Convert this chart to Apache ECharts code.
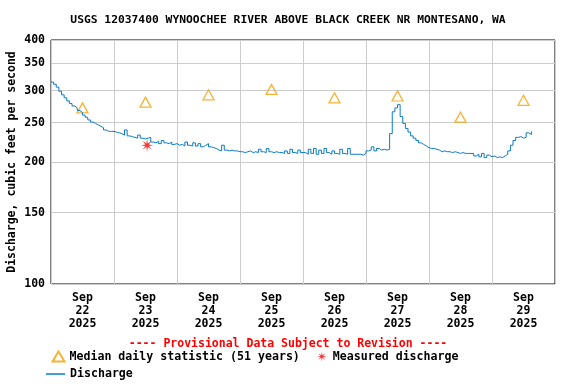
<!DOCTYPE html>
<html>
<head>
<meta charset="utf-8">
<script src="https://cdn.jsdelivr.net/npm/echarts@6/dist/echarts.min.js"></script>
<style>html,body{margin:0;padding:0;background:#fff}#c{width:576px;height:384px}</style>
</head>
<body>
<div id="c"></div>
<script>
// Tick labels / categories
const dayLabels = ['Sep\n22\n2025','Sep\n23\n2025','Sep\n24\n2025','Sep\n25\n2025','Sep\n26\n2025','Sep\n27\n2025','Sep\n28\n2025','Sep\n29\n2025'];
const yTicks = [100, 150, 200, 250, 300, 350, 400];
// Hourly discharge (cfs), hour 0 = Sep 22 00:00
const sep22 = [315,311,306,299,293,288,283,279,275,272,268,265,261,258,254,251,249,247,245,243,240,238,238,238];
const sep23 = [237,236,235,233,240,232,231,230,229,233,229,228,229,230,224,223,225,222,226,223,222,224,221,222];
const sep24 = [220,221,219,224,220,219,223,219,222,218,220,222,218,217,216,214,213,220,214,213,214,213,213,212];
const sep25 = [212,211,212,213,211,212,211,215,212,211,216,212,211,212,211,211,210,213,210,215,211,210,214,211];
const sep26 = [211,209,215,210,216,209,214,210,216,211,209,213,210,209,215,210,209,216,209,209,209,209,208,210];
const sep27 = [213,214,218,213,216,214,215,214,215,235,266,272,277,259,249,242,237,232,229,226,223,221,219,217];
const sep28 = [216,216,215,214,212,213,212,212,211,212,211,210,211,210,210,210,210,207,209,206,210,205,208,206];
const sep29 = [207,205,206,205,207,209,213,220,226,230,231,229,230,236,234,238];
// Median daily statistic (at noon of each day)
const medianHours = [12, 36, 60, 84, 108, 132, 156, 180];
const medianValues = [272, 281, 293, 302, 288, 291, 258, 284];
// Measured discharge
const measuredHours = [36.6];
const measuredValues = [220];

const discharge = [].concat(sep22, sep23, sep24, sep25, sep26, sep27, sep28, sep29);
const dischargeData = discharge.map((v, i) => [i, v]);
const medianData = medianHours.map((h, i) => [h, medianValues[i]]);
const measuredData = measuredHours.map((h, i) => [h, measuredValues[i]]);

const FONT = 'DejaVu Sans Mono';
const starPath = 'path://M10,0 L2.6,1.08 L7.07,7.07 L1.08,2.6 L0,10 L-1.08,2.6 L-7.07,7.07 L-2.6,1.08 L-10,0 L-2.6,-1.08 L-7.07,-7.07 L-1.08,-2.6 L0,-10 L1.08,-2.6 L7.07,-7.07 L2.6,-1.08 Z';

const chart = echarts.init(document.getElementById('c'));
chart.setOption({
  animation: false,
  title: [
    { text: 'USGS 12037400 WYNOOCHEE RIVER ABOVE BLACK CREEK NR MONTESANO, WA', left: 'center', top: 10,
      textStyle: { fontFamily: FONT, fontSize: 11.3, fontWeight: 'bold', color: '#000' } },
    { text: '---- Provisional Data Subject to Revision ----', left: 'center', top: 333,
      textStyle: { fontFamily: FONT, fontSize: 11.5, fontWeight: 'bold', color: '#ff0000' } }
  ],
  grid: { left: 51, right: 21, top: 40, bottom: 100, outerBoundsMode: 'none', containLabel: false,
    show: true, borderColor: '#000', borderWidth: 1, backgroundColor: 'transparent' },
  xAxis: [
    { type: 'value', min: 0, max: 192, interval: 24,
      axisLine: { show: false }, axisTick: { show: false }, axisLabel: { show: false },
      splitLine: { show: true, lineStyle: { color: '#cccccc', width: 1 } } },
    { type: 'category', data: dayLabels, position: 'bottom', boundaryGap: true,
      axisLine: { show: false }, axisTick: { show: false }, splitLine: { show: false },
      axisLabel: { fontFamily: FONT, fontSize: 11.5, fontWeight: 'bold', color: '#000', lineHeight: 13, margin: 8 } }
  ],
  yAxis: {
    type: 'log', logBase: 10, min: 100, max: 400,
    name: 'Discharge, cubic feet per second', nameLocation: 'middle', nameGap: 33, nameRotate: 90,
    nameMoveOverlap: false,
    nameTextStyle: { fontFamily: FONT, fontSize: 11.5, fontWeight: 'bold', color: '#000' },
    axisLine: { show: false },
    axisTick: { show: false, customValues: yTicks },
    axisLabel: { customValues: yTicks, fontFamily: FONT, fontSize: 11.5, fontWeight: 'bold', color: '#000', margin: 6 },
    splitLine: { show: true, lineStyle: { color: '#cccccc', width: 1 } }
  },
  legend: [
    { left: 45, top: 344, itemGap: 17, itemWidth: 12, itemHeight: 10,
      textStyle: { fontFamily: FONT, fontSize: 11.6, fontWeight: 'bold', color: '#000' },
      data: ['Median daily statistic (51 years)', 'Measured discharge'] },
    { left: 41, top: 363, itemWidth: 19, itemHeight: 1.5,
      textStyle: { fontFamily: FONT, fontSize: 11.6, fontWeight: 'bold', color: '#000' },
      data: [{ name: 'Discharge', icon: 'rect' }] }
  ],
  series: [
    { name: 'Discharge', type: 'line', data: dischargeData, symbol: 'none', step: 'end', xAxisIndex: 0,
      lineStyle: { color: '#0a7cc8', width: 1 }, itemStyle: { color: '#0a7cc8' } },
    { name: 'Median daily statistic (51 years)', type: 'scatter', data: medianData, xAxisIndex: 0,
      symbol: 'triangle', symbolSize: [11, 10],
      itemStyle: { color: 'none', borderColor: '#f5a000', borderWidth: 1.3 } },
    { name: 'Measured discharge', type: 'scatter', data: measuredData, xAxisIndex: 0,
      symbol: starPath, symbolSize: 13,
      itemStyle: { color: '#ff0000' } }
  ]
});
</script>
</body>
</html>
